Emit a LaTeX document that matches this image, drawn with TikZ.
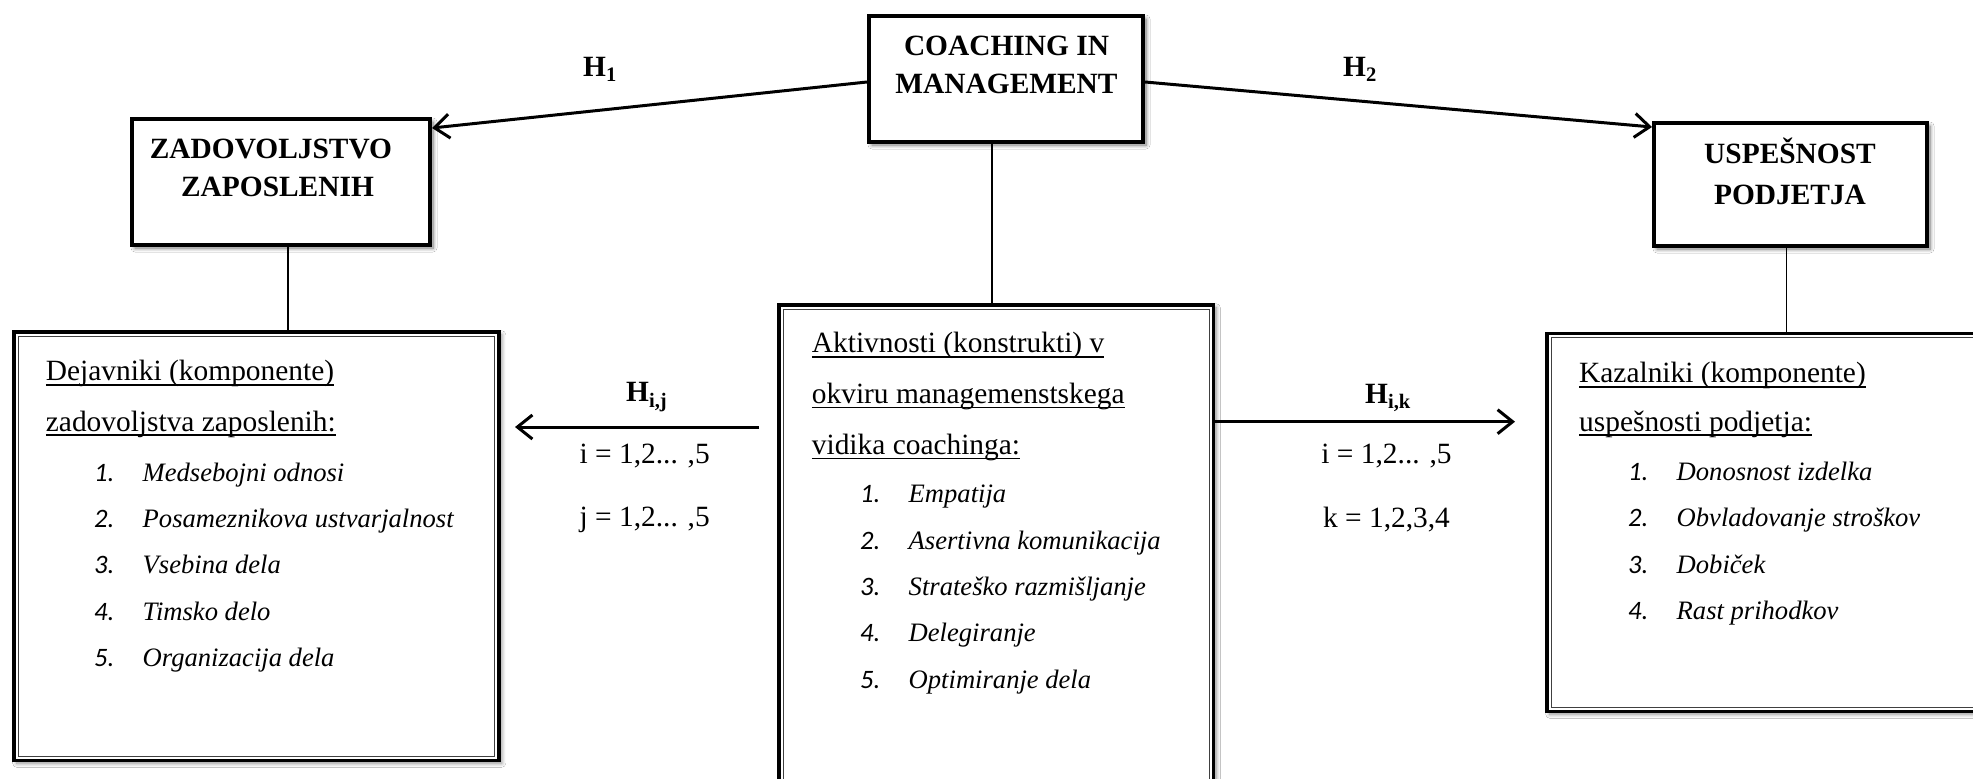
\documentclass[tikz,border=0pt]{standalone}
\usepackage{fontspec}
\setmainfont{Liberation Serif}
\newfontfamily\numfont{Carlito}
\usetikzlibrary{arrows.meta,calc,shadows.blur}

% underlined heading line inside a frame
\newcommand\ulined[1]{\setbox0\hbox{#1}\rlap{\rule[-5pt]{\wd0}{1.6pt}}\box0}
% numbered list entry: sans number, italic serif text
\newcommand\itm[2]{\makebox[48.5pt][l]{\numfont\itshape #1.}\textit{#2}}
% one line of frame text: style, name, position, text
\newcommand\stxt[4]{\node[#1] (#2) at (#3) {#4};}

\tikzset{
  headbox/.style={draw, line width=4pt, fill=white, inner sep=0pt, anchor=north west,
    blur shadow={shadow xshift=3pt, shadow yshift=-3pt, shadow blur radius=4pt,
      shadow blur steps=8, shadow opacity=55}},
  framebox/.style={draw, line width=3.5pt, fill=white, inner sep=0pt, anchor=north west,
    blur shadow={shadow xshift=3pt, shadow yshift=-3pt, shadow blur radius=4pt,
      shadow blur steps=8, shadow opacity=45}},
  innerframe/.style={line width=1pt, draw=black!75},
  hd/.style={font=\fontsize{29.4}{34}\selectfont\bfseries, anchor=base, inner sep=0pt},
  bd/.style={font=\fontsize{29.4}{34}\selectfont, anchor=base west, inner sep=0pt},
  it/.style={font=\fontsize{26.6}{30}\selectfont, anchor=base west, inner sep=0pt},
  lb/.style={font=\fontsize{29.4}{34}\selectfont, anchor=base, inner sep=0pt},
  hl/.style={font=\fontsize{29.4}{34}\selectfont\bfseries, anchor=base west, inner sep=0pt},
  link/.style={line width=1.5pt},
  arr/.style={line width=3pt, -{Straight Barb[length=15pt,width=24pt]}},
}

\begin{document}
\begin{tikzpicture}[x=1pt, y=-1pt]
\useasboundingbox (0,0) rectangle (1973,779);
\fill[white] (0,0) rectangle (1973,779);
\clip (0,0) rectangle (1973,779);

% ---- top level boxes
\node[headbox, minimum width=274, minimum height=126] (coach) at (867,14) {};
\node[headbox, minimum width=298, minimum height=126] (zad) at (130,117) {};
\node[headbox, minimum width=273, minimum height=123] (usp) at (1652,121) {};

\node[hd] (coach1) at (1006.5,55) {COACHING IN};
\node[hd] (coach2) at (1006.5,93.3) {MANAGEMENT};
\node[hd] (zad1) at (271,158) {ZADOVOLJSTVO};
\node[hd] (zad2) at (277.5,196.7) {ZAPOSLENIH};
\node[hd] (usp1) at (1790,163) {USPEŠNOST};
\node[hd] (usp2) at (1790,204.5) {PODJETJA};

% ---- detail frames
\node[framebox, minimum width=485, minimum height=428.5] (lbox) at (12,330) {};
\node[framebox, minimum width=434.5, minimum height=520] (mid) at (777,303) {};
\node[framebox, minimum width=470, minimum height=378] (rbox) at (1545,331.5) {};

\draw[innerframe] ($(lbox.north west)+(6,6)$) rectangle ($(lbox.south east)+(-6,-6)$);
\draw[innerframe] ($(mid.north west)+(6,6)$) rectangle ($(mid.south east)+(-6,-6)$);
\draw[innerframe] ($(rbox.north west)+(6,6)$) rectangle ($(rbox.south east)+(-6,-6)$);

% ---- vertical links between boxes and frames
\coordinate (zl) at ($(zad.south)+(7,0)$);
\coordinate (cl) at ($(mid.north)+(-4,0)$);
\coordinate (ul) at ($(usp.south)+(-4,0)$);
\draw[link] (zl) -- (zl |- lbox.north);
\draw[link] (cl) -- (cl |- coach.south);
\draw[link] (ul) -- (ul |- rbox.north);

% ---- hypothesis arrows
\draw[arr] ($(coach.west)+(0,3)$) -- ($(zad.north east)+(0,11)$);
\draw[arr] ($(coach.east)+(0,3)$) -- ($(usp.north west)+(0,6)$);
\coordinate (hijs) at (759,427);
\coordinate (hije) at (515,427);
\coordinate (hiks) at ($(mid.north east)+(0,118.7)$);
\coordinate (hike) at (1515,421.7);
\draw[arr] (hijs) -- (hije);
\draw[arr] (hiks) -- (hike);

\node[hl] (h1) at (583,76.7) {H\textsubscript{1}};
\node[hl] (h2) at (1343,76.7) {H\textsubscript{2}};
\node[hl] (hij) at (626,401.7) {H\textsubscript{i,j}};
\node[hl] (hik) at (1365,403) {H\textsubscript{i,k}};
\node[lb] (ij1) at (644.7,463.3) {i = 1,2... ,5};
\node[lb] (ij2) at (644.7,526.7) {j = 1,2... ,5};
\node[lb] (ik1) at (1386.5,463) {i = 1,2... ,5};
\node[lb] (ik2) at (1386.5,527) {k = 1,2,3,4};

% ---- left frame text
\stxt{bd}{l1}{45.7,380.7}{\ulined{Dejavniki (komponente)}}
\stxt{bd}{l2}{45.7,431}{\ulined{zadovoljstva zaposlenih:}}
\stxt{it}{l3}{94,481}{\itm{1}{Medsebojni odnosi}}
\stxt{it}{l4}{94,527.4}{\itm{2}{Posameznikova ustvarjalnost}}
\stxt{it}{l5}{94,573.8}{\itm{3}{Vsebina dela}}
\stxt{it}{l6}{94,620.2}{\itm{4}{Timsko delo}}
\stxt{it}{l7}{94,666.6}{\itm{5}{Organizacija dela}}

% ---- middle frame text
\stxt{bd}{m1}{811.7,352.7}{\ulined{Aktivnosti (konstrukti) v}}
\stxt{bd}{m2}{811.7,403.3}{\ulined{okviru managemenstskega}}
\stxt{bd}{m3}{811.7,454.3}{\ulined{vidika coachinga:}}
\stxt{it}{m4}{860,502.7}{\itm{1}{Empatija}}
\stxt{it}{m5}{860,549.1}{\itm{2}{Asertivna komunikacija}}
\stxt{it}{m6}{860,595.5}{\itm{3}{Strateško razmišljanje}}
\stxt{it}{m7}{860,641.9}{\itm{4}{Delegiranje}}
\stxt{it}{m8}{860,688.3}{\itm{5}{Optimiranje dela}}

% ---- right frame text
\stxt{bd}{r1}{1579,382.7}{\ulined{Kazalniki (komponente)}}
\stxt{bd}{r2}{1579,431}{\ulined{uspešnosti podjetja:}}
\stxt{it}{r3}{1628,480.5}{\itm{1}{Donosnost izdelka}}
\stxt{it}{r4}{1628,526.9}{\itm{2}{Obvladovanje stroškov}}
\stxt{it}{r5}{1628,573.3}{\itm{3}{Dobiček}}
\stxt{it}{r6}{1628,619.7}{\itm{4}{Rast prihodkov}}
\end{tikzpicture}
\end{document}
